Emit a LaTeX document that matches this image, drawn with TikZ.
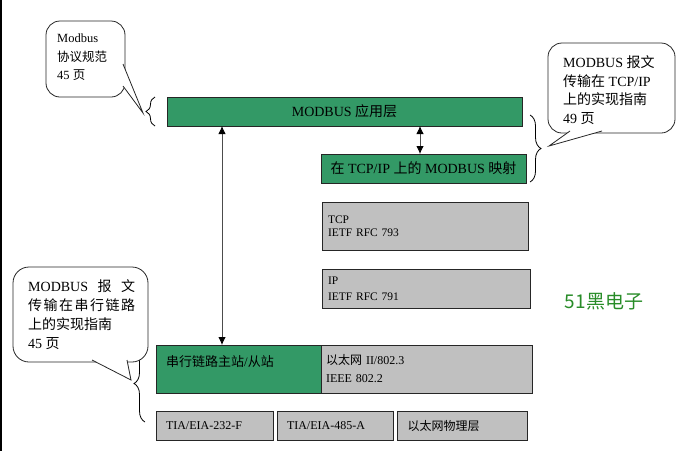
\documentclass[tikz,border=0pt]{standalone}
\usepackage{fontspec}
\setmainfont{Liberation Serif}
\newfontfamily\zhfont{Noto Sans CJK SC}
\newcommand{\zh}[1]{{\zhfont #1}}
\usetikzlibrary{arrows.meta,decorations.pathreplacing}
\definecolor{boxgreen}{RGB}{51,153,102}
\definecolor{boxgray}{RGB}{192,192,192}
\definecolor{logogreen}{RGB}{40,140,40}
\begin{document}
\begin{tikzpicture}[x=1pt,y=-1pt,
  layer/.style={draw=black!85, line width=0.8pt, inner sep=0pt, outer sep=0pt},
  greenbox/.style={layer, fill=boxgreen},
  graybox/.style={layer, fill=boxgray},
  txt/.style={inner sep=0pt, anchor=west, align=left},
  callout/.style={draw=black!85, line width=0.8pt, fill=white},
  bracestyle/.style={decorate, decoration={brace, amplitude=#1}, line width=0.8pt},
  bracestyle/.default=9pt,
  link/.style={draw=black!70, line width=0.8pt, {Latex[length=8pt,width=7.5pt,black]}-{Latex[length=8pt,width=7.5pt,black]}},
]
\useasboundingbox (0,0) rectangle (684,451);
\fill[black] (0,0) rectangle (2,451);

% layers
\node[greenbox, minimum width=355pt, minimum height=29pt, font=\fontsize{14}{16}\selectfont] (app) at (344.5,111.5) {MODBUS \zh{应用层}};
\node[greenbox, minimum width=205pt, minimum height=29pt, font=\fontsize{14}{16}\selectfont] (map) at (423.5,168.5) {\zh{在} TCP/IP \zh{上的} MODBUS \zh{映射}};
\node[graybox, minimum height=48pt, text width=194pt, inner xsep=6pt, align=left, font=\fontsize{11.5}{13.5}\selectfont] (tcp) at (425,226) {TCP\\IETF RFC 793};
\node[graybox, minimum height=39pt, text width=196pt, inner xsep=6pt, align=left, font=\fontsize{11.5}{16}\selectfont] (ip) at (426,288.5) {IP\\IETF RFC 791};
\node[greenbox, minimum width=165pt, minimum height=48pt] (serial) at (238.5,369) {};
\node[txt, font=\fontsize{13}{15}\selectfont] (sertext) at (166,362) {\zh{串行链路主站}/\zh{从站}};
\node[graybox, minimum height=48pt, text width=201pt, inner xsep=5pt, align=left, font=\fontsize{12}{18}\selectfont] (eth) at (426.5,369) {\zh{以太网} II/802.3\\IEEE 802.2};
\node[graybox, minimum height=29pt, text width=97pt, inner xsep=10pt, align=left, font=\fontsize{12}{14}\selectfont] (tia232) at (214.5,425.5) {TIA/EIA-232-F};
\node[graybox, minimum height=29pt, text width=96pt, inner xsep=10pt, align=left, font=\fontsize{12}{14}\selectfont] (tia485) at (335,425.5) {TIA/EIA-485-A};
\node[graybox, minimum height=29pt, text width=109pt, inner xsep=10.5pt, align=left, font=\fontsize{12}{14}\selectfont] (ethphy) at (462,425.5) {\zh{以太网物理层}};

% arrows
\coordinate (ax) at (222,0);
\coordinate (bx) at (420,0);
\draw[link] (app.south -| ax) -- (serial.north -| ax);
\draw[link] (app.south -| bx) -- (map.north -| bx);

% braces
\draw[bracestyle=9pt] (155,126) -- (155,97);
\draw[bracestyle=11pt] (530,115) -- (530,182);
\draw[bracestyle=11pt] (145,422) -- (145,345);

% callouts
\draw[callout, rounded corners=14pt] (46,21) rectangle (125,97);
\filldraw[callout] (123,64) -- (143,113) -- (123,86);
\node[txt, font=\fontsize{12.5}{18.5}\selectfont] (c1text) at (57,57.5) {Modbus\\\zh{协议规范}\\45 \zh{页}};

\draw[callout, rounded corners=14pt] (548,43) rectangle (675,133);
\filldraw[callout] (570,131) -- (549,146) -- (602,131);
\node[txt, font=\fontsize{14}{18.7}\selectfont] (c2text) at (563,90) {MODBUS \zh{报文}\\\zh{传输在} TCP/IP\\\zh{上的实现指南}\\49 \zh{页}};

\draw[callout, rounded corners=16pt] (13,267) rectangle (148,362);
\filldraw[callout] (92,360) -- (131,380) -- (127,360);
\node[txt, font=\fontsize{14}{19}\selectfont] (c3text) at (28,314.5) {\makebox[107pt][s]{MODBUS\hfill\zh{报}\hfill\zh{文}}\\\makebox[107pt][s]{\zh{传}\hfill\zh{输}\hfill\zh{在}\hfill\zh{串}\hfill\zh{行}\hfill\zh{链}\hfill\zh{路}}\\\zh{上的实现指南}\\45 \zh{页}};

% logo
\node[inner sep=0pt, text=logogreen, font=\zhfont\fontsize{19}{19}\selectfont] (logo) at (604,301) {51黑电子};
\end{tikzpicture}
\end{document}
